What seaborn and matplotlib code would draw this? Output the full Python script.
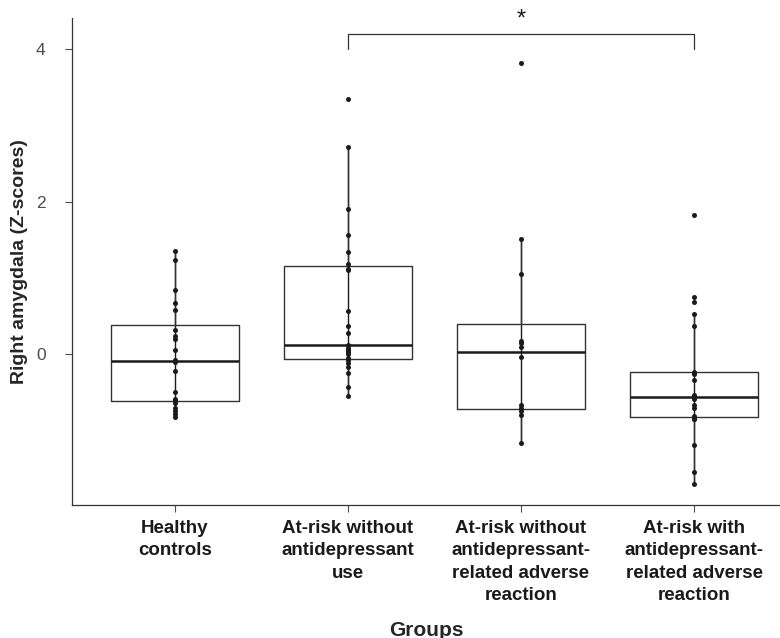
import numpy as np
import pandas as pd
import matplotlib
matplotlib.use("Agg")
import matplotlib.pyplot as plt
import seaborn as sns
from matplotlib.cbook import boxplot_stats

# group labels as shown under the x axis
groups = [
    "Healthy\ncontrols",
    "At-risk without\nantidepressant\nuse",
    "At-risk without\nantidepressant-\nrelated adverse\nreaction",
    "At-risk with\nantidepressant-\nrelated adverse\nreaction",
]

# right amygdala z-scores
healthy = [1.358, 1.238, 0.844, 0.670, 0.588, 0.316, 0.247, 0.203, 0.056, -0.077,
           -0.10, -0.221, -0.496, -0.58, -0.60, -0.64, -0.70, -0.736, -0.78, -0.814]
no_antidep = [3.35, 2.71, 1.90, 1.56, 1.34, 1.19, 1.117, 1.10, 0.575, 0.376, 0.28,
              0.13, 0.09, 0.06, 0.03, 0.0, -0.04, -0.07, -0.11, -0.17, -0.24, -0.43, -0.54]
no_adverse = [3.82, 1.506, 1.05, 0.18, 0.15, 0.10, -0.03, -0.66, -0.70, -0.74, -0.79, -1.16]
adverse = [1.83, 0.757, 0.69, 0.53, 0.367, -0.226, -0.25, -0.34, -0.53, -0.55, -0.56,
           -0.58, -0.66, -0.70, -0.80, -0.82, -0.84, -0.85, -1.19, -1.54, -1.70]

values = [healthy, no_antidep, no_adverse, adverse]
df = pd.DataFrame({
    "group": np.repeat(groups, [len(v) for v in values]),
    "z": np.concatenate(values),
})

sns.set_theme(style="ticks")
plt.rcParams["font.family"] = ["Liberation Sans", "DejaVu Sans"]

fig = plt.figure(figsize=(7.8, 6.38), dpi=100)
ax = fig.add_axes([0.0923, 0.2085, 0.9077, 0.7627])

# whisker line runs through the box, like the original
for i, v in enumerate(values):
    st = boxplot_stats(np.array(v))[0]
    ax.vlines(i, st["whislo"], st["whishi"], color="#1a1a1a", lw=1, zorder=1)

sns.boxplot(data=df, x="group", y="z", order=groups, fill=False, color="#333333",
            width=0.74, linewidth=1, showcaps=False, showfliers=False,
            medianprops={"linewidth": 1.8, "color": "#1a1a1a"}, ax=ax)
sns.stripplot(data=df, x="group", y="z", order=groups, jitter=False,
              color="#1a1a1a", size=3.6, zorder=5, ax=ax)

ax.set_xlim(-0.595, 3.497)
ax.set_ylim(-1.97, 4.4)
ax.set_yticks([0, 2, 4])
ax.tick_params(axis="both", colors="#4d4d4d", length=5, width=0.8)
ax.tick_params(axis="y", labelsize=12.5, labelcolor="#4d4d4d", pad=14)
ax.tick_params(axis="x", pad=6)
for lab in ax.get_xticklabels():
    lab.set_fontweight("bold")
    lab.set_fontsize(13.5)
    lab.set_color("#1a1a1a")
    lab.set_linespacing(1.4)
for s in ["left", "bottom"]:
    ax.spines[s].set_color("#333333")
    ax.spines[s].set_linewidth(0.9)
sns.despine(ax=ax)

ax.set_xlabel("Groups", fontsize=15, fontweight="bold", labelpad=12)
ax.set_ylabel("Right amygdala (Z-scores)", fontsize=14, fontweight="bold")
ax.yaxis.set_label_coords(-0.062, 0.5)

# significance bracket between group 2 and group 4
ax.plot([1, 1, 3, 3], [4.0, 4.2, 4.2, 4.0], color="#333333", lw=0.9, clip_on=False)
ax.text(2, 4.24, "*", ha="center", va="bottom", fontsize=17, color="#1a1a1a")

plt.savefig("out.png", dpi=100)
